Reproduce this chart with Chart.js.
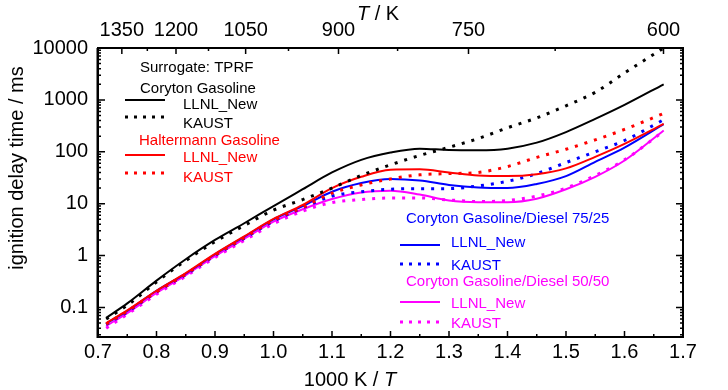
<!DOCTYPE html>
<html>
<head>
<meta charset="utf-8">
<script src="https://cdn.jsdelivr.net/npm/chart.js@4"></script>
<style>
  html, body { margin: 0; padding: 0; background: #fff; }
  #wrap { width: 728px; height: 390px; }
</style>
</head>
<body>
<div id="wrap"><canvas id="chart" width="728" height="390"></canvas></div>
<script>
// 1000 K / T
var invT = [0.714, 0.75, 0.8, 0.85, 0.9, 0.95, 1.0, 1.05, 1.1, 1.15, 1.2, 1.25, 1.3, 1.35, 1.4, 1.45, 1.5, 1.55, 1.6, 1.667];

// ignition delay time / ms
var corytonLLNL  = [0.063, 0.12, 0.33, 0.85, 2.0, 4.2, 9, 19, 40, 70, 97, 115, 108, 107, 115, 150, 240, 430, 800, 2000];
var corytonKAUST = [0.06, 0.11, 0.31, 0.8, 1.85, 3.8, 7.5, 12, 20, 35, 56, 85, 122, 180, 290, 450, 770, 1400, 3300, 10000];
var haltLLNL     = [0.05, 0.088, 0.21, 0.46, 1.08, 2.35, 5.1, 9.5, 20, 33, 45, 46, 40, 35, 34, 37, 48, 80, 142, 345];
var haltKAUST    = [0.048, 0.085, 0.2, 0.44, 1.02, 2.2, 4.8, 8.5, 16, 23, 30, 36, 38, 40, 52, 78, 112, 170, 270, 550];
var mix75LLNL    = [0.049, 0.086, 0.21, 0.45, 1.06, 2.3, 5.0, 9, 17, 25, 30, 28, 23, 20.5, 20, 24, 34, 64, 120, 340];
var mix75KAUST   = [0.047, 0.082, 0.2, 0.43, 1.0, 2.15, 4.6, 8.3, 14, 17, 19, 19.5, 19.5, 22, 27, 38, 62, 100, 165, 415];
var mix50LLNL    = [0.044, 0.078, 0.19, 0.42, 0.98, 2.1, 4.5, 7.8, 12.3, 16.5, 17.8, 15, 11.5, 10.7, 10.7, 12.5, 19, 33, 68, 258];
var mix50KAUST   = [0.04, 0.074, 0.18, 0.4, 0.92, 1.95, 4.1, 7.2, 10.5, 12, 12.9, 12.9, 11.8, 11, 11.5, 14, 20, 35, 70, 250];

var xTicks = [0.7, 0.8, 0.9, 1.0, 1.1, 1.2, 1.3, 1.4, 1.5, 1.6, 1.7];
var yTicks = [0.1, 1, 10, 100, 1000, 10000];
var topTemps = [1350, 1200, 1050, 900, 750, 600];
var topMinorTemps = [1275, 1125, 975, 825, 675];

var FONT = "'Liberation Sans', Arial, sans-serif";
var BLACK = "#000000", RED = "#ff0000", BLUE = "#0000ff", MAGENTA = "#ff00ff";

function pts(arr) {
  return invT.map(function (x, i) { return { x: x, y: arr[i] }; });
}

function line(arr, color, dotted) {
  return {
    data: pts(arr),
    borderColor: color,
    borderWidth: dotted ? 3 : 2,
    borderDash: dotted ? [3, 7] : [],
    pointRadius: 0,
    fill: false,
    cubicInterpolationMode: "monotone",
    xAxisID: "x",
    yAxisID: "y"
  };
}

// legend drawn inside the plot
var legendHeads = [
  ["Surrogate: TPRF", BLACK, 140, 72],
  ["Coryton Gasoline", BLACK, 140, 93],
  ["Haltermann Gasoline", RED, 139, 145],
  ["Coryton Gasoline/Diesel 75/25", BLUE, 406, 223],
  ["Coryton Gasoline/Diesel 50/50", MAGENTA, 406, 286]
];
var legendRows = [
  ["LLNL_New", BLACK, false, 125, 100, 183, 109],
  ["KAUST", BLACK, true, 125, 117, 183, 128],
  ["LLNL_New", RED, false, 125, 155, 183, 162],
  ["KAUST", RED, true, 125, 173, 183, 182],
  ["LLNL_New", BLUE, false, 400, 245, 451, 247],
  ["KAUST", BLUE, true, 400, 264, 451, 270],
  ["LLNL_New", MAGENTA, false, 400, 302, 451, 308],
  ["KAUST", MAGENTA, true, 400, 322, 451, 328]
];

function mixedText(ctx, parts, cx, y, size) {
  var widths = parts.map(function (p) {
    ctx.font = (p[1] ? "italic " : "") + size + "px " + FONT;
    return ctx.measureText(p[0]).width;
  });
  var total = widths.reduce(function (a, b) { return a + b; }, 0);
  var x = cx - total / 2;
  parts.forEach(function (p, i) {
    ctx.font = (p[1] ? "italic " : "") + size + "px " + FONT;
    ctx.fillText(p[0], x, y);
    x += widths[i];
  });
}

var decor = {
  id: "decor",
  afterDraw: function (chart) {
    var ctx = chart.ctx, a = chart.chartArea;
    var sx = chart.scales.x, sy = chart.scales.y;
    ctx.save();
    ctx.strokeStyle = BLACK;
    ctx.lineWidth = 2;
    ctx.setLineDash([]);
    ctx.strokeRect(a.left, a.top, a.right - a.left, a.bottom - a.top);
    ctx.beginPath();
    ctx.moveTo(a.left - 0.5, a.top); ctx.lineTo(a.left - 0.5, a.bottom + 1);
    ctx.stroke();

    ctx.lineWidth = 1.5;
    ctx.beginPath();
    // bottom ticks
    for (var k = 0; k <= 20; k++) {
      var v = 0.7 + k * 0.05;
      var px = sx.getPixelForValue(v);
      var len = k % 2 === 0 ? 6 : 3;
      ctx.moveTo(px, a.bottom); ctx.lineTo(px, a.bottom - len);
    }
    // top ticks
    topTemps.forEach(function (t) {
      var px = sx.getPixelForValue(1000 / t);
      ctx.moveTo(px, a.top); ctx.lineTo(px, a.top + 6);
    });
    topMinorTemps.forEach(function (t) {
      var px = sx.getPixelForValue(1000 / t);
      ctx.moveTo(px, a.top); ctx.lineTo(px, a.top + 3);
    });
    // left/right ticks
    for (var e = -2; e <= 3; e++) {
      for (var m = 1; m <= 9; m++) {
        var val = m * Math.pow(10, e);
        if (val < sy.min || val > sy.max) continue;
        var py = sy.getPixelForValue(val);
        var l = m === 1 ? 7 : 3;
        ctx.moveTo(a.left, py); ctx.lineTo(a.left + l, py);
        ctx.moveTo(a.right, py); ctx.lineTo(a.right - l, py);
      }
    }
    var pTop = sy.getPixelForValue(10000);
    ctx.moveTo(a.left, pTop); ctx.lineTo(a.left + 7, pTop);
    ctx.stroke();

    // axis titles
    ctx.fillStyle = BLACK;
    ctx.textBaseline = "alphabetic";
    ctx.textAlign = "left";
    mixedText(ctx, [["1000 K / ", false], ["T", true]], 350, 386, 20);
    mixedText(ctx, [["T", true], [" / K", false]], 378, 20, 20);
    ctx.save();
    ctx.translate(23, 168);
    ctx.rotate(-Math.PI / 2);
    ctx.font = "20px " + FONT;
    ctx.textAlign = "center";
    ctx.fillText("ignition delay time / ms", 0, 0);
    ctx.restore();

    // legend
    ctx.font = "15px " + FONT;
    ctx.textAlign = "left";
    legendHeads.forEach(function (h) {
      ctx.fillStyle = h[1];
      ctx.fillText(h[0], h[2], h[3]);
    });
    legendRows.forEach(function (r) {
      ctx.strokeStyle = r[1];
      ctx.lineWidth = r[2] ? 3 : 2;
      ctx.setLineDash(r[2] ? [3, 6] : []);
      ctx.beginPath();
      ctx.moveTo(r[3], r[4]); ctx.lineTo(r[3] + 40, r[4]);
      ctx.stroke();
      ctx.fillStyle = r[1];
      ctx.fillText(r[0], r[5], r[6]);
    });
    ctx.restore();
  }
};

var tickFont = { family: FONT, size: 20 };

var chart = new Chart(document.getElementById("chart"), {
  type: "line",
  data: {
    datasets: [
      line(corytonLLNL, BLACK, false),
      line(corytonKAUST, BLACK, true),
      line(haltLLNL, RED, false),
      line(haltKAUST, RED, true),
      line(mix75LLNL, BLUE, false),
      line(mix75KAUST, BLUE, true),
      line(mix50LLNL, MAGENTA, false),
      line(mix50KAUST, MAGENTA, true)
    ]
  },
  options: {
    responsive: false,
    devicePixelRatio: 1,
    animation: false,
    layout: { padding: { left: 0, right: 45, top: 0, bottom: 0 } },
    plugins: { legend: { display: false }, tooltip: { enabled: false } },
    scales: {
      x: {
        type: "linear",
        position: "bottom",
        min: 0.7,
        max: 1.7,
        afterFit: function (s) { s.height = 53; },
        afterBuildTicks: function (s) { s.ticks = xTicks.map(function (v) { return { value: v }; }); },
        ticks: {
          callback: function (v) { return Number(v).toFixed(1); },
          font: tickFont, color: BLACK, padding: 3, maxRotation: 0, autoSkip: false
        },
        grid: { display: false, drawTicks: false },
        border: { display: false }
      },
      xTop: {
        type: "linear",
        position: "top",
        min: 0.7,
        max: 1.7,
        afterFit: function (s) { s.height = 48; },
        afterBuildTicks: function (s) { s.ticks = topTemps.map(function (t) { return { value: 1000 / t }; }); },
        ticks: {
          callback: function (v) { return String(Math.round(1000 / v)); },
          font: tickFont, color: BLACK, padding: 6, maxRotation: 0, autoSkip: false
        },
        grid: { display: false, drawTicks: false },
        border: { display: false }
      },
      y: {
        type: "logarithmic",
        min: 0.027,
        max: 10000,
        afterFit: function (s) { s.width = 98; },
        afterBuildTicks: function (s) { s.ticks = yTicks.map(function (v) { return { value: v }; }); },
        ticks: {
          callback: function (v) { return String(v); },
          font: tickFont, color: BLACK, padding: 10, autoSkip: false
        },
        grid: { display: false, drawTicks: false },
        border: { display: false }
      }
    }
  },
  plugins: [decor]
});
</script>
</body>
</html>
